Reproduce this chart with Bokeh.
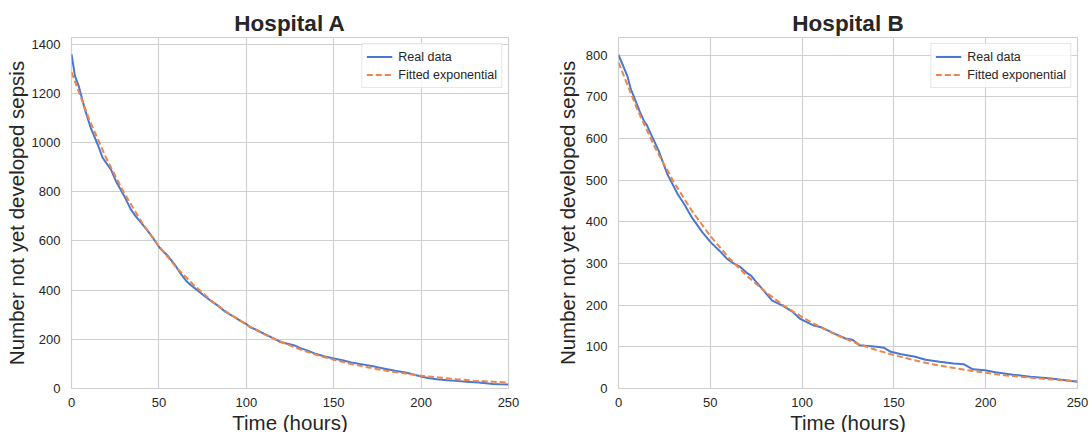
from bokeh.plotting import figure
from bokeh.layouts import row
from bokeh.models import Range1d, SingleIntervalTicker, Legend, LegendItem
from bokeh.embed import file_html
from bokeh.resources import INLINE

# Hospital A: observed counts (hours, patients not yet septic)
a_real_t = [0, 2, 4.2, 7.4, 11, 15, 17.9, 22.6, 25.5, 30, 34, 36.9, 40, 43.5, 47,
            50.2, 53, 55, 58.7, 62, 65.4, 68, 71.1, 75, 80, 83.5, 88, 93, 96, 99.6,
            102, 104.4, 110, 115, 119.6, 123, 127.2, 131, 134.8, 140, 145, 150, 155,
            160, 169, 174, 178.5, 185, 191.8, 195, 199.4, 204, 209, 215, 220, 226,
            233, 241, 245, 250]
a_real_v = [1359, 1270, 1228, 1141, 1060, 992, 937, 890, 842, 785, 727, 699, 672, 642,
            608, 574, 554, 540, 507, 472, 439, 422, 405, 382, 355, 338, 312, 291, 278,
            264, 250, 243, 223, 206, 189, 183, 176, 164, 155, 140, 130, 122, 115, 106,
            95, 88, 81, 72, 64, 58, 50, 43, 38, 34, 31, 27, 24, 18, 17, 16]

# Hospital A: fitted exponential sampled every 10 hours
a_fit_t = list(range(0, 251, 10))
a_fit_v = [1286, 1096, 934, 796, 678, 578, 492, 420, 357, 305, 260, 221, 189, 161,
           137, 117, 100, 85, 72, 62, 52, 45, 38, 32, 28, 24]

# Hospital B: observed counts
b_real_t = [0, 2.9, 4.8, 6.7, 8.6, 11.4, 14.3, 15.2, 18.1, 21.9, 26.6, 28.5, 32.3,
            36.1, 38, 40, 42, 45.6, 50.4, 55.1, 58.9, 62.7, 66.5, 70.3, 72.2, 75.1,
            79.8, 83.7, 89.4, 95.1, 98.9, 106.5, 110.3, 117.9, 123.6, 127.4, 131.2,
            140.7, 144.5, 148.3, 154, 161.6, 167.3, 174.9, 182.5, 188.2, 193, 199.6,
            205.3, 214.8, 224.3, 235.7, 243.3, 250]
b_real_v = [800, 770, 750, 718, 698, 666, 638, 634, 606, 570, 514, 498, 466, 440, 425,
            410, 398, 375, 350, 330, 312, 300, 291, 276, 271, 255, 231, 211, 199, 183,
            167, 151, 147, 131, 120, 117, 104, 100, 98, 88, 82, 76, 69, 64, 60, 58, 46,
            44, 39, 33, 28, 24, 20, 16]

# Hospital B: fitted exponential sampled every 10 hours
b_fit_t = list(range(0, 251, 10))
b_fit_v = [782, 672, 577, 496, 426, 366, 314, 270, 232, 199, 171, 147, 126, 108, 93,
           80, 69, 59, 51, 44, 37.5, 32, 27.7, 23.8, 20.4, 17.5]

titles = ["Hospital A", "Hospital B"]
y_tops = [1427, 842]
y_steps = [200, 100]

BLUE = "#4878d0"
ORANGE = "#ee854a"
GRID = "#d0d0d0"
TEXT = "#262626"
FONT = "Liberation Sans"


def panel(title, rt, rv, ft, fv, ytop, ystep, fw, left, right, label_gap):
    p = figure(frame_width=fw, frame_height=351,
               x_range=Range1d(0, 250), y_range=Range1d(0, ytop),
               output_backend="svg", toolbar_location=None,
               min_border_left=left, min_border_right=right,
               min_border_top=37, min_border_bottom=44,
               background_fill_color="white", border_fill_color="white",
               outline_line_color=GRID, outline_line_width=1.2)
    p.title.text = title
    p.title.text_font = FONT
    p.title.text_font_size = "22.5px"
    p.title.text_font_style = "bold"
    p.title.text_color = TEXT
    p.title.align = "center"
    p.title.standoff = 4

    p.xaxis.ticker = SingleIntervalTicker(interval=50)
    p.yaxis.ticker = SingleIntervalTicker(interval=ystep)
    for ax in (p.xaxis[0], p.yaxis[0]):
        ax.axis_line_color = None
        ax.major_tick_line_color = None
        ax.minor_tick_line_color = None
        ax.major_tick_out = 0
        ax.major_tick_in = 0
        ax.major_label_text_font = FONT
        ax.major_label_text_font_size = "13px"
        ax.major_label_text_color = TEXT
        ax.axis_label_text_font = FONT
        ax.axis_label_text_font_size = "20.5px"
        ax.axis_label_text_font_style = "normal"
        ax.axis_label_text_color = TEXT
    p.xaxis.axis_label = "Time (hours)"
    p.yaxis.axis_label = "Number not yet developed sepsis"
    p.xaxis.major_label_standoff = 5
    p.xaxis.axis_label_standoff = 1
    p.yaxis.major_label_standoff = 7
    p.yaxis.axis_label_standoff = label_gap

    for g in (p.xgrid[0], p.ygrid[0]):
        g.grid_line_color = GRID
        g.grid_line_width = 1.2

    r1 = p.line(rt, rv, line_color=BLUE, line_width=2)
    r2 = p.line(ft, fv, line_color=ORANGE, line_width=2, line_dash="6 3")

    leg = Legend(items=[LegendItem(label="Real data", renderers=[r1]),
                        LegendItem(label="Fitted exponential", renderers=[r2])],
                 location="top_right")
    leg.label_text_font = FONT
    leg.label_text_font_size = "12.5px"
    leg.label_text_color = TEXT
    leg.label_height = 17
    leg.label_standoff = 6
    leg.glyph_width = 26
    leg.glyph_height = 17
    leg.spacing = 1
    leg.padding = 4
    leg.margin = 6
    leg.border_line_color = GRID
    leg.border_line_width = 1
    leg.background_fill_alpha = 0.8
    p.add_layout(leg, "center")
    return p


p1 = panel(titles[0], a_real_t, a_real_v, a_fit_t, a_fit_v,
           y_tops[0], y_steps[0], 437, 71, 37, 1)
p2 = panel(titles[1], b_real_t, b_real_v, b_fit_t, b_fit_v,
           y_tops[1], y_steps[1], 459, 73, 12, 4)

layout = row(p1, p2)
open("out.html", "w").write(file_html(layout, INLINE))
